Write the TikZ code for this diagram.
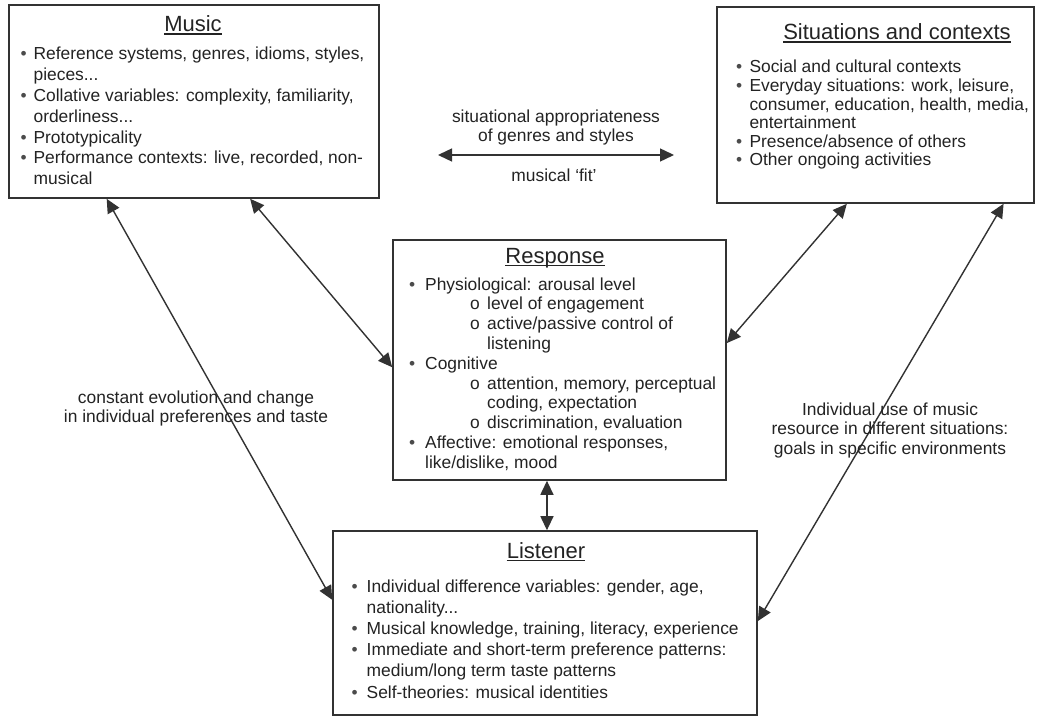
\documentclass[tikz,border=0pt]{standalone}
\usepackage{fontspec}
\setmainfont{Liberation Sans}
\usetikzlibrary{arrows.meta,calc}
\definecolor{ink}{RGB}{35,35,35}
\definecolor{linec}{RGB}{50,50,50}
\definecolor{bulc}{RGB}{75,75,75}
\newcommand{\bl}[1]{\makebox[#1][l]{\color{bulc}\textbullet}}
\newcommand{\sbl}[2]{\hspace{#1}\makebox[#2][l]{o}}
\begin{document}
\begin{tikzpicture}[x=1pt,y=-1pt,
  box/.style={draw=linec, line width=1.6pt, inner sep=0pt, rectangle},
  ttl/.style={anchor=base, inner sep=0pt, font=\fontsize{22}{26}\selectfont, text=ink},
  body/.style={anchor=base west, inner sep=0pt, text=ink},
  lbl/.style={anchor=base, inner sep=0pt, text=ink},
  arr/.style={draw=linec, line width=1.4pt, {Triangle[length=14pt,width=13pt]}-{Triangle[length=14pt,width=13pt]}},
  uline/.style={draw=ink, line width=1.2pt}]
\useasboundingbox (0,0) rectangle (1040,719);
\fill[white] (0,0) rectangle (1040,719);

% boxes
\node[box, minimum width=370pt, minimum height=193pt] (music) at (194,101.5) {};
\node[box, minimum width=317pt, minimum height=196pt] (sit) at (875.5,105) {};
\node[box, minimum width=333pt, minimum height=240pt] (resp) at (559.5,360) {};
\node[box, minimum width=424pt, minimum height=184pt] (lis) at (545,623) {};

% titles
\node[ttl] (musicT) at (193,31.5) {Music};
\node[ttl] (sitT) at (897,39.5) {Situations and contexts};
\node[ttl] (respT) at (555,263) {Response};
\node[ttl] (lisT) at (546,558) {Listener};
\foreach \t in {musicT,sitT,respT,lisT}
  \draw[uline] ([yshift=-2.5pt]\t.base west) -- ([yshift=-2.5pt]\t.base east);

% contents
\node[body, font=\fontsize{17.4}{20.8}\selectfont] (musicB) at (20.4,60) {\begin{tabular}[t]{@{}l@{}}
\bl{13pt}Reference systems, genres, idioms, styles,\\
\hspace{13pt}pieces...\\
\bl{13pt}Collative variables: complexity, familiarity,\\
\hspace{13pt}orderliness...\\
\bl{13pt}Prototypicality\\
\bl{13pt}Performance contexts: live, recorded, non-\\
\hspace{13pt}musical
\end{tabular}};

\node[body, font=\fontsize{17.4}{18.6}\selectfont] (sitB) at (736,73) {\begin{tabular}[t]{@{}l@{}}
\bl{13.3pt}Social and cultural contexts\\
\bl{13.3pt}Everyday situations: work, leisure,\\
\hspace{13.3pt}consumer, education, health, media,\\
\hspace{13.3pt}entertainment\\
\bl{13.3pt}Presence/absence of others\\
\bl{13.3pt}Other ongoing activities
\end{tabular}};

\node[body, font=\fontsize{17.4}{19.8}\selectfont] (respB) at (409,290) {\begin{tabular}[t]{@{}l@{}}
\bl{16pt}Physiological: arousal level\\
\sbl{61pt}{17pt}level of engagement\\
\sbl{61pt}{17pt}active/passive control of\\
\hspace{78pt}listening\\
\bl{16pt}Cognitive\\
\sbl{61pt}{17pt}attention, memory, perceptual\\
\hspace{78pt}coding, expectation\\
\sbl{61pt}{17pt}discrimination, evaluation\\
\bl{16pt}Affective: emotional responses,\\
\hspace{16pt}like/dislike, mood
\end{tabular}};

\node[body, font=\fontsize{17.4}{21.2}\selectfont] (lisB) at (351.5,592) {\begin{tabular}[t]{@{}l@{}}
\bl{15pt}Individual difference variables: gender, age,\\
\hspace{15pt}nationality...\\
\bl{15pt}Musical knowledge, training, literacy, experience\\
\bl{15pt}Immediate and short-term preference patterns:\\
\hspace{15pt}medium/long term taste patterns\\
\bl{15pt}Self-theories: musical identities
\end{tabular}};

% connector end points
\coordinate (mR) at ($(music.south west)!0.651!(music.south east)$);
\coordinate (rM) at ($(resp.north west)!0.53!(resp.south west)$);
\coordinate (mL) at ($(music.south west)!0.265!(music.south east)$);
\coordinate (lM) at ($(lis.north west)!0.375!(lis.south west)$);
\coordinate (sR) at ($(sit.south west)!0.41!(sit.south east)$);
\coordinate (rS) at ($(resp.north east)!0.43!(resp.south east)$);
\coordinate (sL) at ($(sit.south west)!0.902!(sit.south east)$);
\coordinate (lS) at ($(lis.north east)!0.49!(lis.south east)$);
\coordinate (rL) at ($(resp.south west)!0.4625!(resp.south east)$);
\coordinate (hL) at (438,155);
\coordinate (hR) at (674,155);

% connectors
\draw[arr] (hL) -- (hR);
\draw[arr] (mR) -- (rM);
\draw[arr] (mL) -- (lM);
\draw[arr] (sR) -- (rS);
\draw[arr] (sL) -- (lS);
\draw[arr] (rL) -- (rL |- lis.north);

% labels
\node[lbl, font=\fontsize{17.4}{19}\selectfont] (fitA) at (556,123) {\begin{tabular}[t]{@{}c@{}}situational appropriateness\\ of genres and styles\end{tabular}};
\node[lbl, font=\fontsize{17.4}{19}\selectfont] (fitB) at (554,182) {musical ‘fit’};
\node[lbl, font=\fontsize{17.4}{19}\selectfont] (evo) at (196,403) {\begin{tabular}[t]{@{}c@{}}constant evolution and change\\ in individual preferences and taste\end{tabular}};
\node[lbl, font=\fontsize{17.4}{19.5}\selectfont] (use) at (890,415) {\begin{tabular}[t]{@{}c@{}}Individual use of music\\ resource in different situations:\\ goals in specific environments\end{tabular}};
\end{tikzpicture}
\end{document}
